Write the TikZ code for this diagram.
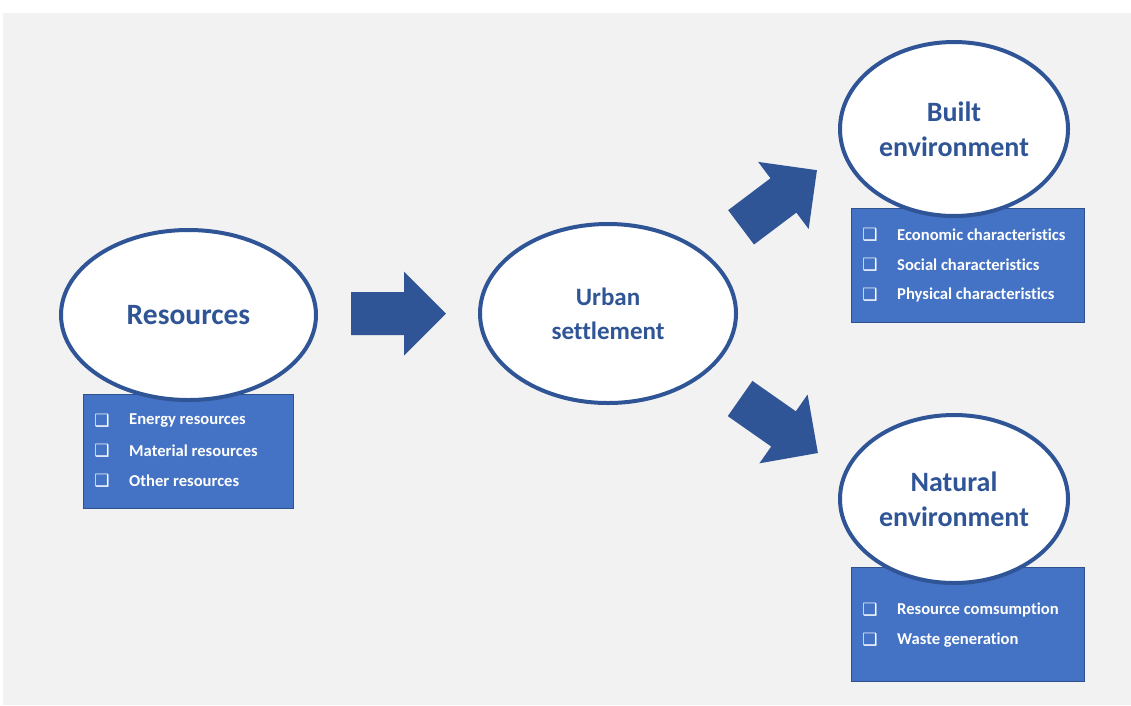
\documentclass[tikz,border=0pt]{standalone}
\usepackage{fontspec}
\setmainfont{Carlito}[Ligatures=CommonOff]
\newfontfamily\symfont{DejaVu Sans}
\usetikzlibrary{shapes.geometric}

\definecolor{darkblue}{HTML}{2F5597}
\definecolor{boxblue}{HTML}{4472C4}
\definecolor{boxline}{HTML}{2F528F}
\definecolor{panel}{HTML}{F2F2F2}

% check box in front of each list entry
\newcommand{\tick}{{\symfont\fontsize{17pt}{17pt}\selectfont\char"2751}}

\begin{document}
\begin{tikzpicture}[x=1pt,y=-1pt]{
    \tikzstyle{bubble}=[ellipse, draw=darkblue, line width=4pt, fill=white, inner sep=0pt,
                        text=darkblue, font=\bfseries, align=center]
    \tikzstyle{listbox}=[rectangle, draw=boxline, line width=1.2pt, fill=boxblue, anchor=north west]
    \tikzstyle{entry}=[anchor=west, text=white, inner sep=0pt,
                       font=\bfseries\fontsize{16.6pt}{20pt}\selectfont]
    \tikzstyle{bullet}=[anchor=center, text=white, inner sep=0pt]
    \tikzstyle{flow}=[fill=darkblue]
    \def\arrowshape{(-47.5,-21.5) -- (5.5,-21.5) -- (5.5,-42) -- (47.5,0) -- (5.5,42) -- (5.5,21.5) -- (-47.5,21.5) -- cycle}

    % page and grey panel
    \useasboundingbox[fill=white] (0,0) rectangle (1131,705);
    \fill[panel] (3,13) rectangle (1131,705);

    % list boxes
    \node[listbox, minimum width=210, minimum height=114] (res-box) at (83,394) {};
    \node[listbox, minimum width=233, minimum height=114] (blt-box) at (851,208) {};
    \node[listbox, minimum width=233, minimum height=114] (nat-box) at (851,567) {};

    \node[bullet] (res-b1) at (102,421) {\tick};
    \node[bullet] (res-b2) at (102,451) {\tick};
    \node[bullet] (res-b3) at (102,481) {\tick};
    \node[entry] (res-1) at (129,421) {Energy resources};
    \node[entry] (res-2) at (129,451) {Material resources};
    \node[entry] (res-3) at (129,481) {Other resources};

    \node[bullet] (blt-b1) at (870,235) {\tick};
    \node[bullet] (blt-b2) at (870,265) {\tick};
    \node[bullet] (blt-b3) at (870,295) {\tick};
    \node[entry] (blt-1) at (897,235) {Economic characteristics};
    \node[entry] (blt-2) at (897,265) {Social characteristics};
    \node[entry] (blt-3) at (897,295) {Physical characteristics};

    \node[bullet] (nat-b1) at (870,610) {\tick};
    \node[bullet] (nat-b2) at (870,640) {\tick};
    \node[entry] (nat-1) at (897,610) {Resource comsumption};
    \node[entry] (nat-2) at (897,640) {Waste generation};

    % ellipses on top of the boxes
    \node[bubble, minimum width=255, minimum height=170, font=\bfseries\fontsize{29.5pt}{34pt}\selectfont]
      (res) at (188.5,315) {Resources};
    \node[bubble, minimum width=256, minimum height=179, font=\bfseries\fontsize{25pt}{34pt}\selectfont]
      (urb) at (608,313.5) {Urban\\settlement};
    \node[bubble, minimum width=228, minimum height=174, font=\bfseries\fontsize{28pt}{35pt}\selectfont]
      (blt) at (954,129) {Built\\environment};
    \node[bubble, minimum width=228, minimum height=168, font=\bfseries\fontsize{28pt}{35pt}\selectfont]
      (nat) at (954,499) {Natural\\environment};

    % block arrows
    \fill[flow, shift={(398.5,313.5)}] \arrowshape;
    \fill[flow, shift={(779,198.75)}, rotate=37] \arrowshape;
    \fill[flow, shift={(779,425.75)}, rotate=-35] \arrowshape;}
\end{tikzpicture}
\end{document}
